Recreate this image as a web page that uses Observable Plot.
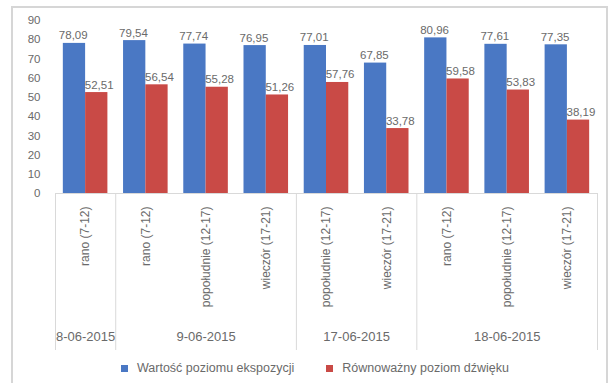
<!DOCTYPE html>
<html>
<head>
<meta charset="utf-8">
<script src="https://cdn.jsdelivr.net/npm/d3@7"></script>
<script src="https://cdn.jsdelivr.net/npm/@observablehq/plot@0.6"></script>
<style>
  html, body { margin: 0; padding: 0; background: #fff; }
  body { width: 614px; height: 383px; position: relative; overflow: hidden; font-family: "Liberation Sans", Arial, sans-serif; }
  #frame { position: absolute; left: 11px; top: 6px; width: 597px; height: 400px; border: 2px solid #d6d6d6; box-sizing: border-box; }
  #chart { position: absolute; left: 0; top: 0; }
  #legend { position: absolute; top: 361px; left: 121px; display: flex; align-items: center; font-size: 12.5px; color: #6a6a6a; white-space: nowrap; }
  #legend .sw { width: 7px; height: 7px; display: inline-block; margin-right: 9px; }
  #legend .item { display: flex; align-items: center; margin-right: 32px; }
</style>
</head>
<body>
<div id="frame"></div>
<div id="chart"></div>
<div id="legend"></div>
<script>
const categories = ["rano (7-12)", "rano (7-12)", "popołudnie (12-17)", "wieczór (17-21)", "popołudnie (12-17)", "wieczór (17-21)", "rano (7-12)", "popołudnie (12-17)", "wieczór (17-21)"];
const dates = ["8-06-2015", "9-06-2015", "17-06-2015", "18-06-2015"];
const dateCounts = [1, 3, 2, 3];
const exposure = [78.09, 79.54, 77.74, 76.95, 77.01, 67.85, 80.96, 77.61, 77.35];
const equivalent = [52.51, 56.54, 55.28, 51.26, 57.76, 33.78, 59.58, 53.83, 38.19];
const seriesNames = ["Wartość poziomu ekspozycji", "Równoważny poziom dźwięku"];
const seriesColors = ["#4a78c4", "#c94a46"];
const yTicks = [0, 10, 20, 30, 40, 50, 60, 70, 80, 90];

const fmt = v => v.toFixed(2).replace(".", ",");

const bars = [];
categories.forEach((c, i) => {
  bars.push({i, series: 0, value: exposure[i], x1: i + 0.13, x2: i + 0.5});
  bars.push({i, series: 1, value: equivalent[i], x1: i + 0.5, x2: i + 0.87});
});

const bounds = [0];
const groups = [];
let acc = 0;
dates.forEach((d, k) => {
  groups.push({label: d, x: acc + dateCounts[k] / 2});
  acc += dateCounts[k];
  bounds.push(acc);
});

const gray = "#6a6a6a";
const font = "Liberation Sans, Arial, sans-serif";

const plot = Plot.plot({
  width: 614,
  height: 355,
  marginLeft: 55,
  marginRight: 17,
  marginTop: 20,
  marginBottom: 162,
  style: {fontFamily: font, fontSize: "11.5px", color: gray, background: "transparent", overflow: "visible"},
  x: {type: "linear", domain: [0, categories.length], axis: null},
  y: {domain: [0, 90], ticks: yTicks, tickSize: 0, tickPadding: 15, tickFormat: d => d, label: null},
  marks: [
    Plot.rectY(bars, {x1: "x1", x2: "x2", y1: 0, y2: "value", fill: d => seriesColors[d.series]}),
    Plot.ruleY([0], {stroke: "#d9d9d9", strokeWidth: 1}),
    Plot.ruleX(bounds, {x: d => d, y1: 0, y2: 0, insetBottom: -157, stroke: "#d9d9d9", strokeWidth: 1}),
    Plot.text(bars, {
      x: d => (d.x1 + d.x2) / 2 + (d.series === 1 ? 0.04 : -0.02), y: "value", text: d => fmt(d.value),
      lineAnchor: "bottom", dy: -4, fill: gray, fontSize: 11.5
    }),
    Plot.text(categories, {
      x: (d, i) => i + 0.5, y: () => 0, text: d => d,
      rotate: -90, textAnchor: "end", dy: 13, fill: gray, fontSize: 12
    }),
    Plot.text(groups, {
      x: "x", y: () => 0, text: "label", dy: 143, fill: gray, fontSize: 13
    })
  ]
});
document.getElementById("chart").appendChild(plot);

const legend = document.getElementById("legend");
seriesNames.forEach((name, k) => {
  const item = document.createElement("span");
  item.className = "item";
  const sw = document.createElement("span");
  sw.className = "sw";
  sw.style.background = seriesColors[k];
  item.appendChild(sw);
  item.appendChild(document.createTextNode(name));
  legend.appendChild(item);
});
</script>
</body>
</html>
